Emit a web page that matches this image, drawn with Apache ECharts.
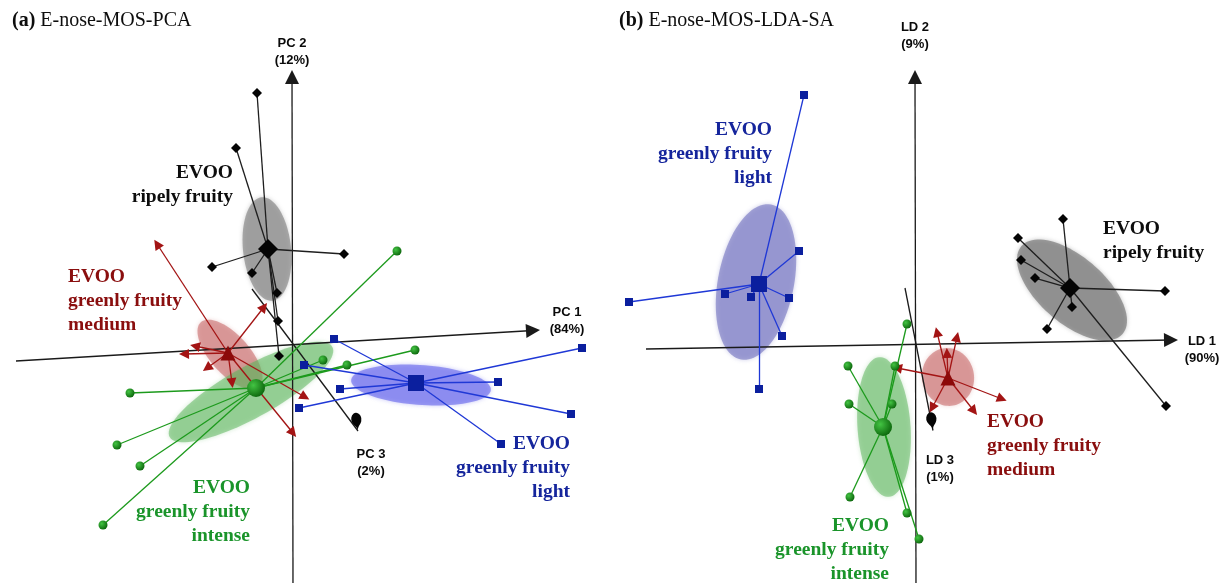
<!DOCTYPE html>
<html>
<head>
<meta charset="utf-8">
<script src="https://cdn.jsdelivr.net/npm/echarts@6/dist/echarts.min.js"></script>
<style>
  html, body { margin: 0; padding: 0; background: #fff; }
  #chart { width: 1223px; height: 583px; }
</style>
</head>
<body>
<div id="chart"></div>
<script>
// ---------- (a) E-nose-MOS-PCA : projected scores (PC1, PC2 plane) ----------
const PCA_TITLE = ['(a)', 'E-nose-MOS-PCA'];
const PCA_AXIS_NAMES = ['PC 1\n(84%)', 'PC 2\n(12%)', 'PC 3\n(2%)'];
const PCA_AXIS_LINES = [[[-11.06, -0.64], [9.62, 0.58]], [[0.02, -9.52], [-0.02, 10.72]], [[-1.62, 2.24], [2.62, -3.44]]];

const PCA_RIPE_C = [-0.98, 3.84];
const PCA_RIPE = [[-1.42, 10.08], [-2.26, 7.88], [2.06, 3.64], [-3.22, 3.12], [-1.62, 2.88], [-0.62, 2.08], [-0.58, 0.96], [-0.54, -0.44]];
const PCA_RIPE_ELL = [-1.02, 3.84, 2.08, 0.96, 96];

const PCA_MEDIUM_C = [-2.58, -0.32];
const PCA_MEDIUM = [[-5.42, 4.04], [-1.14, 1.52], [-3.9, -0.04], [-4.34, -0.36], [-3.42, -0.92], [-2.42, -1.52], [0.5, -2.08], [0.02, -3.52]];
const PCA_MEDIUM_ELL = [-2.5, -0.38, 1.74, 0.78, -48];

const PCA_INTENSE_C = [-1.46, -1.72];
const PCA_INTENSE = [[4.18, 3.76], [1.22, -0.6], [2.18, -0.8], [4.9, -0.2], [-6.5, -1.92], [-7.02, -4.0], [-6.1, -4.84], [-7.58, -7.2]];
const PCA_INTENSE_ELL = [-1.66, -1.88, 3.72, 1.02, 29];

const PCA_LIGHT_C = [4.94, -1.52];
const PCA_LIGHT = [[1.66, 0.24], [11.58, -0.12], [0.46, -0.8], [8.22, -1.48], [1.9, -1.76], [0.26, -2.52], [11.14, -2.76], [8.34, -3.96]];
const PCA_LIGHT_ELL = [5.14, -1.6, 2.8, 0.8, -4];

// ---------- (b) E-nose-MOS-LDA-SA : projected discriminant scores ----------
const LDA_TITLE = ['(b)', 'E-nose-MOS-LDA-SA'];
const LDA_AXIS_NAMES = ['LD 1\n(90%)', 'LD 2\n(9%)', 'LD 3\n(1%)'];
const LDA_AXIS_LINES = [[[-10.78, -0.18], [10.22, 0.18]], [[0.02, -9.54], [-0.02, 10.7]], [[-0.42, 2.26], [0.7, -3.44]]];

const LDA_RIPE_C = [6.18, 2.26];
const LDA_RIPE = [[5.9, 5.02], [4.1, 4.26], [4.22, 3.38], [4.78, 2.66], [9.98, 2.14], [6.26, 1.5], [5.26, 0.62], [10.02, -2.46]];
const LDA_RIPE_ELL = [6.26, 2.18, 2.68, 1.32, -41];

const LDA_MEDIUM_C = [1.3, -1.34];
const LDA_MEDIUM = [[0.86, 0.5], [1.66, 0.3], [1.26, -0.34], [-0.74, -0.94], [3.46, -2.18], [2.34, -2.66], [0.66, -2.54]];
const LDA_MEDIUM_ELL = [1.3, -1.3, 1.16, 1.04, 100];

const LDA_INTENSE_C = [-1.3, -3.3];
const LDA_INTENSE = [[-0.34, 0.82], [-2.7, -0.86], [-0.82, -0.86], [-2.66, -2.38], [-0.94, -2.38], [-2.62, -6.1], [-0.34, -6.74], [0.14, -7.78]];
const LDA_INTENSE_ELL = [-1.26, -3.3, 2.8, 1.06, 94];

const LDA_LIGHT_C = [-6.26, 2.42];
const LDA_LIGHT = [[-4.46, 9.98], [-4.66, 3.74], [-11.46, 1.7], [-7.62, 2.02], [-6.58, 1.9], [-5.06, 1.86], [-5.34, 0.34], [-6.26, -1.78]];
const LDA_LIGHT_ELL = [-6.38, 2.5, 3.16, 1.52, 79];

// Class names shown next to the clusters
const CLASS_RIPE = 'EVOO\nripely fruity';
const CLASS_MEDIUM = 'EVOO\ngreenly fruity\nmedium';
const CLASS_INTENSE = 'EVOO\ngreenly fruity\nintense';
const CLASS_LIGHT = 'EVOO\ngreenly fruity\nlight';

// ---------- styling ----------
const SERIF = 'Liberation Serif, Times New Roman, serif';
const SANS = 'Liberation Sans Narrow, Liberation Sans, Arial, sans-serif';

function sphere(light, dark) {
  return { type: 'radial', x: 0.35, y: 0.35, r: 0.75, colorStops: [{ offset: 0, color: light }, { offset: 1, color: dark }] };
}

const STYLE = {
  ripe:    { line: '#1e1e1e', mark: '#050505', sym: 'diamond', size: 10, csize: 20, text: '#0d0d0d',
             fill: 'rgba(125,125,125,0.60)' },
  medium:  { line: '#a31414', mark: '#8c0a0a', sym: 'triangle', size: 9, csize: 15, text: '#8a0e0e', arrow: true,
             fill: 'rgba(190,80,80,0.48)' },
  intense: { line: '#1c9a1c', mark: sphere('#43c443', '#085f08'), sym: 'circle', size: 9, csize: 18, text: '#1a942a',
             fill: 'rgba(90,180,90,0.52)' },
  light:   { line: '#1f38d6', mark: '#0b1f9e', sym: 'rect', size: 8, csize: 16, text: '#15259c',
             fill: 'rgba(100,100,235,0.60)' }
};
const STYLE_B_LIGHT_FILL = 'rgba(110,110,190,0.58)';
const STYLE_B_RIPE_FILL = 'rgba(110,110,110,0.62)';

// ---------- series builders ----------
function ellipseRender(fill) {
  return function (params, api) {
    const cx = api.value(0), cy = api.value(1), a = api.value(2), b = api.value(3);
    const ang = api.value(4) * Math.PI / 180;
    const pts = [];
    for (let i = 0; i < 90; i++) {
      const t = i / 90 * Math.PI * 2;
      const x = a * Math.cos(t), y = b * Math.sin(t);
      pts.push(api.coord([cx + x * Math.cos(ang) - y * Math.sin(ang), cy + x * Math.sin(ang) + y * Math.cos(ang)]));
    }
    return {
      type: 'polygon', shape: { points: pts },
      style: { fill: fill, stroke: null, shadowBlur: 4, shadowColor: fill }
    };
  };
}

function groupSeries(ax, centroid, samples, ell, st, fillOverride) {
  const common = { xAxisIndex: ax, yAxisIndex: ax, silent: true, animation: false };
  const out = [
    Object.assign({ type: 'custom', clip: false, z: 1, data: [ell], renderItem: ellipseRender(fillOverride || st.fill) }, common),
    Object.assign({
      type: 'lines', coordinateSystem: 'cartesian2d', clip: false, z: 3,
      symbol: st.arrow ? ['none', 'triangle'] : 'none', symbolSize: 10,
      lineStyle: { color: st.line, width: 1.3, opacity: 1 },
      data: samples.map(p => ({ coords: [centroid, p] }))
    }, common),
    Object.assign({
      type: 'scatter', clip: false, z: 5, symbol: st.sym, symbolSize: st.csize,
      itemStyle: { color: st.mark, opacity: 1 }, data: [centroid]
    }, common)
  ];
  if (!st.arrow) {
    out.push(Object.assign({
      type: 'scatter', clip: false, z: 4, symbol: st.sym, symbolSize: st.size,
      itemStyle: { color: st.mark, opacity: 1 }, data: samples
    }, common));
  }
  return out;
}

function axisSeries(ax, lines, names, nameAt) {
  const common = { xAxisIndex: ax, yAxisIndex: ax, silent: true, animation: false };
  return [
    Object.assign({
      type: 'lines', coordinateSystem: 'cartesian2d', clip: false, z: 2,
      symbol: ['none', 'triangle'], symbolSize: 14,
      lineStyle: { color: '#1a1a1a', width: 1.3, opacity: 1 },
      data: lines.slice(0, 2).map(l => ({ coords: l }))
    }, common),
    Object.assign({
      type: 'lines', coordinateSystem: 'cartesian2d', clip: false, z: 2, symbol: 'none',
      lineStyle: { color: '#1a1a1a', width: 1.3, opacity: 1 },
      data: [{ coords: lines[2] }]
    }, common),
    Object.assign({
      type: 'scatter', clip: false, z: 5, symbol: 'pin', symbolSize: [17, 21], symbolRotate: 8,
      itemStyle: { color: '#050505', opacity: 1 }, data: [lines[2][1]]
    }, common),
    Object.assign({
      type: 'scatter', clip: false, z: 6, symbolSize: 1, itemStyle: { color: 'rgba(0,0,0,0)', opacity: 1 },
      data: names.map((n, i) => ({ value: nameAt[i], name: n })),
      label: {
        show: true, position: 'inside', formatter: p => p.name, align: 'center', verticalAlign: 'middle',
        fontFamily: SANS, fontWeight: 'bold', fontSize: 13, lineHeight: 17, color: '#0a0a0a'
      }
    }, common)
  ];
}

function classLabel(ax, text, at, align, color) {
  return {
    type: 'scatter', xAxisIndex: ax, yAxisIndex: ax, clip: false, z: 7, silent: true, animation: false,
    symbolSize: 1, itemStyle: { color: 'rgba(0,0,0,0)', opacity: 1 },
    data: [{ value: at, name: text }],
    label: {
      show: true, position: 'inside', formatter: p => p.name, align: align, verticalAlign: 'middle',
      fontFamily: SERIF, fontWeight: 'bold', fontSize: 19.5, lineHeight: 24, color: color
    }
  };
}

// axis-name anchors (data units of each panel)
const PCA_NAME_AT = [[10.98, 0.96], [-0.02, 11.72], [3.14, -4.72]];
const LDA_NAME_AT = [[11.46, -0.22], [-0.02, 12.34], [0.98, -4.98]];

const series = [].concat(
  axisSeries(0, PCA_AXIS_LINES, PCA_AXIS_NAMES, PCA_NAME_AT),
  groupSeries(0, PCA_RIPE_C, PCA_RIPE, PCA_RIPE_ELL, STYLE.ripe),
  groupSeries(0, PCA_MEDIUM_C, PCA_MEDIUM, PCA_MEDIUM_ELL, STYLE.medium),
  groupSeries(0, PCA_INTENSE_C, PCA_INTENSE, PCA_INTENSE_ELL, STYLE.intense),
  groupSeries(0, PCA_LIGHT_C, PCA_LIGHT, PCA_LIGHT_ELL, STYLE.light),
  [
    classLabel(0, CLASS_RIPE, [-2.38, 6.42], 'right', STYLE.ripe.text),
    classLabel(0, CLASS_MEDIUM, [-8.98, 1.76], 'left', STYLE.medium.text),
    classLabel(0, CLASS_INTENSE, [-1.7, -6.68], 'right', STYLE.intense.text),
    classLabel(0, CLASS_LIGHT, [11.1, -4.92], 'right', STYLE.light.text)
  ],
  axisSeries(1, LDA_AXIS_LINES, LDA_AXIS_NAMES, LDA_NAME_AT),
  groupSeries(1, LDA_RIPE_C, LDA_RIPE, LDA_RIPE_ELL, STYLE.ripe, STYLE_B_RIPE_FILL),
  groupSeries(1, LDA_MEDIUM_C, LDA_MEDIUM, LDA_MEDIUM_ELL, STYLE.medium),
  groupSeries(1, LDA_INTENSE_C, LDA_INTENSE, LDA_INTENSE_ELL, STYLE.intense),
  groupSeries(1, LDA_LIGHT_C, LDA_LIGHT, LDA_LIGHT_ELL, STYLE.light, STYLE_B_LIGHT_FILL),
  [
    classLabel(1, CLASS_LIGHT, [-5.74, 7.62], 'right', STYLE.light.text),
    classLabel(1, CLASS_RIPE, [7.5, 4.14], 'left', STYLE.ripe.text),
    classLabel(1, CLASS_MEDIUM, [2.86, -4.06], 'left', STYLE.medium.text),
    classLabel(1, CLASS_INTENSE, [-1.06, -8.22], 'right', STYLE.intense.text)
  ]
);

function panelTitle(parts, left) {
  return {
    left: left, top: 11, padding: 0,
    text: '{b|' + parts[0] + '} {r|' + parts[1] + '}',
    textStyle: {
      rich: {
        b: { fontFamily: SERIF, fontWeight: 'bold', fontSize: 20, color: '#0d0d0d' },
        r: { fontFamily: SERIF, fontWeight: 'normal', fontSize: 20, color: '#0d0d0d' }
      }
    }
  };
}

const chart = echarts.init(document.getElementById('chart'), null, { renderer: 'canvas' });
chart.setOption({
  backgroundColor: '#ffffff',
  animation: false,
  title: [panelTitle(PCA_TITLE, 12), panelTitle(LDA_TITLE, 619)],
  grid: [
    { left: 17.5, top: 20, width: 550, height: 550 },
    { left: 640.5, top: 19.5, width: 550, height: 550 }
  ],
  xAxis: [
    { gridIndex: 0, type: 'value', min: -11, max: 11, show: false },
    { gridIndex: 1, type: 'value', min: -11, max: 11, show: false }
  ],
  yAxis: [
    { gridIndex: 0, type: 'value', min: -9, max: 13, show: false },
    { gridIndex: 1, type: 'value', min: -9, max: 13, show: false }
  ],
  series: series
});
</script>
</body>
</html>
